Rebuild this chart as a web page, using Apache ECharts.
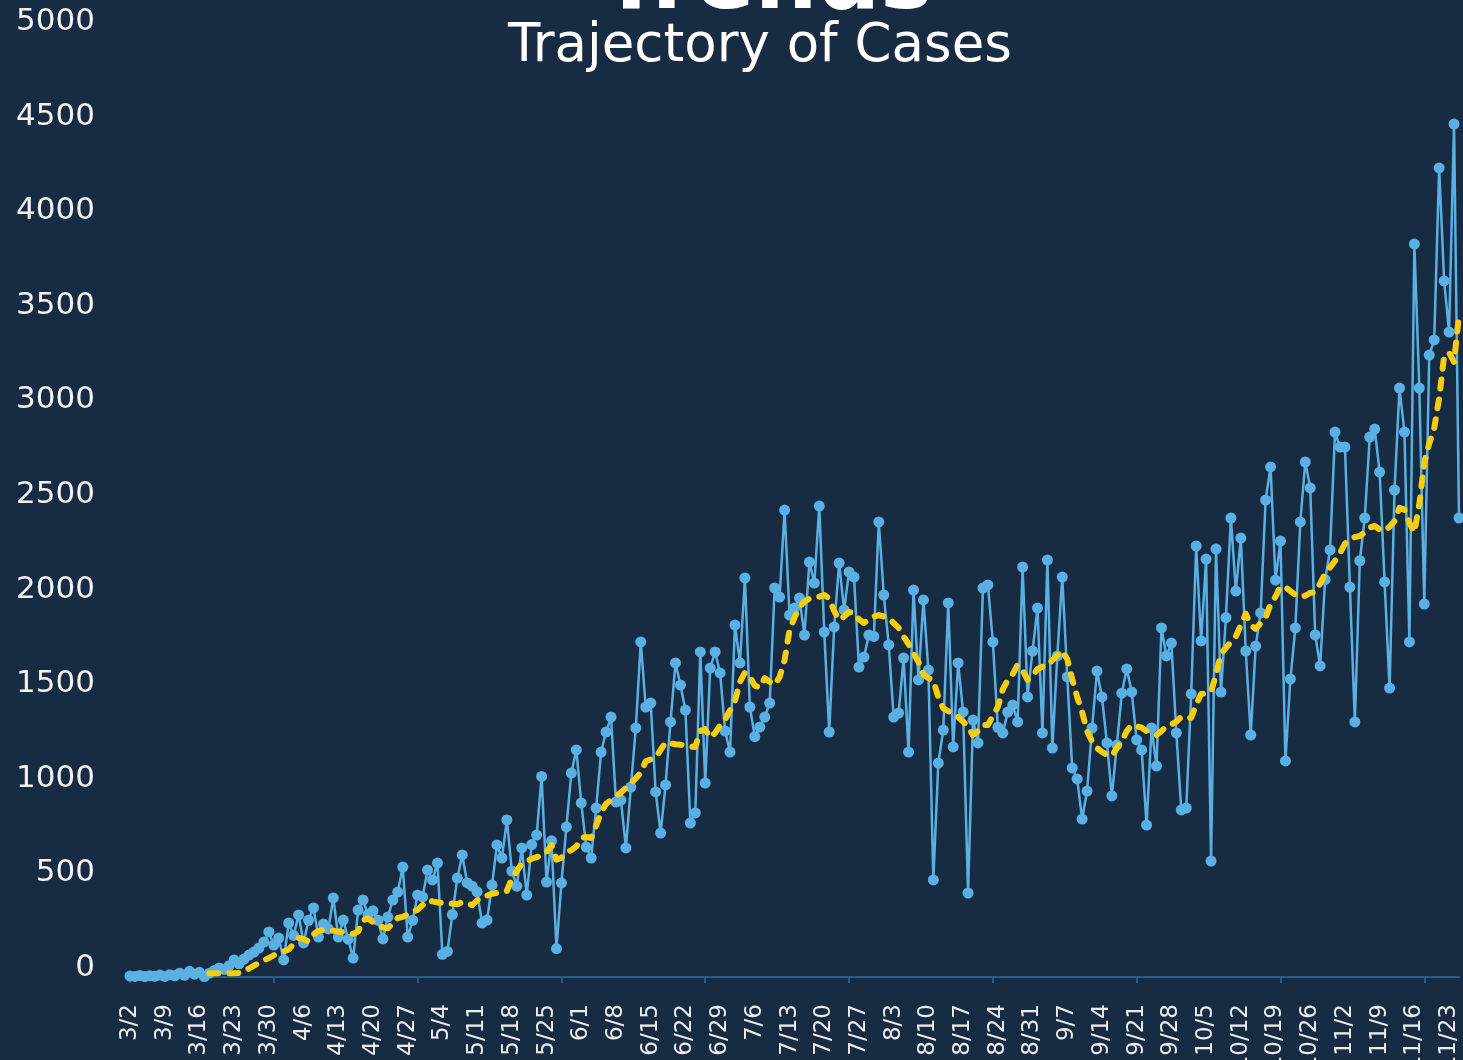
<!DOCTYPE html>
<html>
<head>
<meta charset="utf-8">
<script src="https://cdn.jsdelivr.net/npm/echarts@6/dist/echarts.min.js"></script>
<style>
  html, body { margin: 0; padding: 0; background: #172c43; }
  #main { width: 1463px; height: 1060px; }
</style>
</head>
<body>
<div id="main"></div>
<script>
// daily dates 3/2 .. 11/25
const startDay = new Date(2020, 2, 2);
const days = [];
for (let i = 0; i < 269; i++) {
    const d = new Date(startDay.getTime() + i * 86400000);
    days.push((d.getMonth() + 1) + '/' + d.getDate());
}

// daily new cases
const dailyCases = [
    5, 3, 8, 2, 6, 4, 10, 3, 12, 6, 20, 9, 30, 15, 25, 2, 20, 35, 48, 40,
    60, 90, 70, 95, 116, 132, 153, 185, 238, 169, 206, 90, 285, 220, 328, 180, 300, 365, 211, 280,
    254, 418, 211, 301, 200, 100, 354, 407, 330, 350, 300, 201, 317, 407, 449, 581, 211, 300, 433, 423,
    565, 513, 602, 120, 135, 330, 523, 645, 497, 480, 450, 285, 301, 486, 698, 629, 830, 560, 480, 682,
    433, 700, 750, 1060, 502, 720, 150, 497, 793, 1078, 1200, 920, 687, 629, 893, 1189, 1295, 1374, 925, 935,
    682, 1004, 1316, 1771, 1427, 1448, 978, 761, 1015, 1348, 1660, 1543, 1411, 814, 867, 1718, 1025, 1633, 1718, 1607,
    1300, 1189, 1860, 1660, 2109, 1427, 1270, 1321, 1374, 1448, 2056, 2008, 2468, 1913, 1950, 2003, 1807, 2193, 2082, 2489,
    1823, 1295, 1850, 2188, 1940, 2141, 2114, 1638, 1691, 1807, 1800, 2405, 2019, 1755, 1374, 1395, 1686, 1189, 2045, 1570,
    1993, 1622, 513, 1131, 1305, 1977, 1216, 1660, 1401, 444, 1358, 1237, 2056, 2072, 1771, 1320, 1290, 1400, 1437, 1348,
    2167, 1480, 1723, 1950, 1290, 2204, 1210, 1697, 2114, 1586, 1105, 1047, 835, 983, 1316, 1617, 1480, 1237, 957, 1226,
    1500, 1628, 1506, 1253, 1200, 803, 1316, 1115, 1845, 1697, 1765, 1290, 883, 893, 1496, 2278, 1776, 2209, 613, 2262,
    1506, 1900, 2426, 2040, 2320, 1723, 1279, 1749, 1924, 2521, 2696, 2098, 2304, 1142, 1575, 1845, 2405, 2722, 2585, 1808,
    1644, 2100, 2257, 2880, 2801, 2801, 2061, 1348, 2200, 2426, 2854, 2896, 2669, 2088, 1527, 2574, 3113, 2880, 1771, 3874,
    3113, 1971, 3287, 3367, 4276, 3679, 3409, 4508, 2426
];

// 7-day average, starts 3/18
const avgCases = [
    null, null, null, null, null, null, null, null, null, null, null, null, null, null, null, null, 20, 20, 20, 20,
    20, 20, 22, 30, 45, 60, 75, 88, 100, 115, 128, 135, 145, 175, 206, 200, 188, 225, 245, 248,
    245, 245, 240, 238, 236, 228, 240, 300, 310, 290, 278, 262, 258, 285, 312, 318, 330, 344, 355, 380,
    405, 400, 394, 392, 391, 388, 385, 396, 388, 380, 405, 425, 430, 440, 445, 448, 455, 520, 560, 600,
    610, 625, 634, 640, 660, 698, 620, 630, 660, 670, 690, 735, 740, 735, 800, 870, 915, 935, 955, 975,
    1000, 1025, 1050, 1080, 1140, 1150, 1160, 1200, 1240, 1235, 1230, 1228, 1222, 1218, 1216, 1300, 1310, 1265, 1290, 1330,
    1360, 1410, 1460, 1560, 1610, 1586, 1540, 1530, 1580, 1560, 1545, 1586, 1675, 1834, 1900, 1955, 1985, 2000, 2005, 2010,
    2019, 2000, 1935, 1887, 1905, 1929, 1925, 1890, 1871, 1890, 1905, 1913, 1905, 1900, 1870, 1845, 1800, 1760, 1710, 1665,
    1600, 1580, 1565, 1480, 1420, 1405, 1390, 1375, 1350, 1320, 1279, 1300, 1332, 1332, 1380, 1427, 1520, 1570, 1600, 1650,
    1620, 1570, 1590, 1628, 1640, 1645, 1675, 1700, 1723, 1680, 1575, 1480, 1400, 1300, 1245, 1210, 1190, 1175, 1168, 1210,
    1245, 1300, 1332, 1325, 1318, 1300, 1290, 1279, 1300, 1325, 1335, 1350, 1374, 1365, 1370, 1440, 1496, 1500, 1506, 1600,
    1707, 1740, 1770, 1800, 1860, 1920, 1860, 1840, 1870, 1900, 1970, 2010, 2065, 2060, 2040, 2020, 2008, 2015, 2030, 2035,
    2080, 2130, 2165, 2200, 2240, 2290, 2315, 2325, 2331, 2350, 2375, 2384, 2365, 2357, 2380, 2410, 2480, 2470, 2400, 2350,
    2500, 2720, 2820, 2900, 3060, 3280, 3300, 3250, 3500
];

const chart = echarts.init(document.getElementById('main'));
const labelFont = '"DejaVu Sans", sans-serif';

chart.setOption({
    backgroundColor: '#172c43',
    animation: false,
    graphic: [
        {
            type: 'text',
            x: 767,
            y: -15,
            style: {
                text: 'Trends',
                fill: '#ffffff',
                font: 'bold 88px "DejaVu Sans", sans-serif',
                align: 'center', verticalAlign: 'middle',
                textAlign: 'center', textVerticalAlign: 'middle'
            }
        },
        {
            type: 'text',
            x: 760,
            y: 47,
            style: {
                text: 'Trajectory of Cases',
                fill: '#ffffff',
                font: '53px "DejaVu Sans", sans-serif',
                align: 'center', verticalAlign: 'middle',
                textAlign: 'center', textVerticalAlign: 'middle'
            }
        }
    ],
    grid: { left: 130, right: 4, top: 31, bottom: 83, containLabel: false, outerBoundsMode: 'none' },
    xAxis: {
        type: 'category',
        data: days,
        boundaryGap: false,
        offset: 5,
        axisLine: { lineStyle: { color: '#2b5b86', width: 2 } },
        axisTick: { interval: 28, length: 6, lineStyle: { color: '#2b5b86', width: 2 } },
        axisLabel: {
            interval: 6,
            rotate: 90,
            margin: 22,
            color: '#ececec',
            fontSize: 23,
            fontFamily: labelFont
        },
        splitLine: { show: false }
    },
    yAxis: {
        type: 'value',
        min: 0,
        max: 5000,
        interval: 500,
        axisLine: { show: false },
        axisTick: { show: false },
        splitLine: { show: false },
        axisLabel: {
            color: '#f2f2f2',
            fontSize: 31,
            fontFamily: labelFont,
            margin: 35,
            verticalAlign: 'bottom',
            lineHeight: 18,
            formatter: (v) => String(v)
        }
    },
    series: [
        {
            name: 'Daily cases',
            type: 'line',
            data: dailyCases,
            symbol: 'circle',
            symbolSize: 11,
            showSymbol: true,
            showAllSymbol: true,
            lineStyle: { color: '#5ab0e2', width: 2.5 },
            itemStyle: { color: '#5ab0e2' },
            z: 2
        },
        {
            name: '7-day average',
            type: 'line',
            data: avgCases,
            showSymbol: false,
            connectNulls: false,
            lineStyle: { color: '#f5cd12', width: 6, type: [9, 11], cap: 'round', join: 'round' },
            itemStyle: { color: '#f5cd12' },
            z: 3
        }
    ]
});
</script>
</body>
</html>
